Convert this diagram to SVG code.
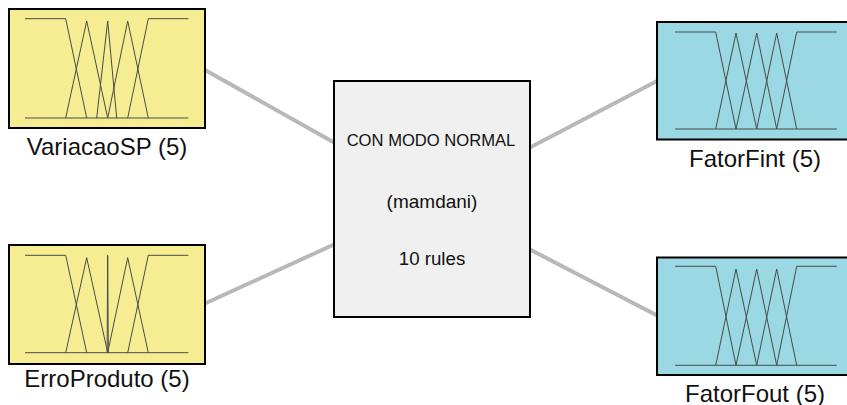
<svg xmlns="http://www.w3.org/2000/svg" width="847" height="405" viewBox="0 0 847 405">
<style>
.in{fill:#f6ed92;stroke:#000;stroke-width:2}
.out{fill:#9ad8e3;stroke:#000;stroke-width:2}
.sys{fill:#f0f0f0;stroke:#000;stroke-width:2}
.mf{fill:none;stroke:#4a4a4a;stroke-width:1}
.lbl{font-family:"Liberation Sans",Arial,sans-serif;font-size:24px;fill:#111;text-anchor:middle}
.st{font-family:"Liberation Sans",Arial,sans-serif;fill:#111;text-anchor:middle}
.conn{stroke:#b8b8b8;stroke-width:4;fill:none}
</style>
<rect width="847" height="405" fill="#fff"/>
<g id="connectors">
<line class="conn" x1="205" y1="70" x2="334" y2="142.5"/>
<line class="conn" x1="205" y1="303.5" x2="334" y2="244.5"/>
<line class="conn" x1="530" y1="147.5" x2="658" y2="80.5"/>
<line class="conn" x1="530" y1="249.5" x2="658" y2="316"/>
</g>
<g id="VariacaoSP">
<rect class="in" x="9" y="9" width="196" height="119"/>
<polyline class="mf" points="25,18.7 65.7,18.7 86.7,118"/>
<polyline class="mf" points="65.7,118 86.7,21 107.7,118"/>
<polyline class="mf" points="96.7,118 107.7,21 116.7,118"/>
<polyline class="mf" points="107.7,118 127.7,21 148.3,118"/>
<polyline class="mf" points="127.7,118 148.3,18.7 188.3,18.7"/>
<line class="mf" x1="25" y1="118" x2="188.3" y2="118"/>
<text class="lbl" x="107" y="154.5">VariacaoSP (5)</text>
</g>
<g id="ErroProduto">
<rect class="in" x="9" y="245" width="196" height="119"/>
<polyline class="mf" points="25,255.3 65.7,255.3 86.7,352.7"/>
<polyline class="mf" points="65.7,352.7 86.7,257.7 107.7,352.7"/>
<polyline class="mf" points="107.1,352.7 107.7,255.3 108.3,352.7"/>
<polyline class="mf" points="107.7,352.7 127.7,257.7 148.3,352.7"/>
<polyline class="mf" points="127.7,352.7 148.3,255.3 188.3,255.3"/>
<line class="mf" x1="25" y1="352.7" x2="188.3" y2="352.7"/>
<text class="lbl" x="107" y="387">ErroProduto (5)</text>
</g>
<g id="system">
<rect class="sys" x="334" y="81" width="196" height="236"/>
<text class="st" x="431" y="146" font-size="16.6">CON MODO NORMAL</text>
<text class="st" x="432" y="207.5" font-size="19">(mamdani)</text>
<text class="st" x="432" y="265" font-size="18.7">10 rules</text>
</g>
<g id="FatorFint">
<rect class="out" x="657" y="22" width="196" height="117.5"/>
<polyline class="mf" points="675,32 715.7,32 736,129"/>
<polyline class="mf" points="715.7,129 736,33 756.7,129"/>
<polyline class="mf" points="736,129 756.7,33 776.7,129"/>
<polyline class="mf" points="756.7,129 776.7,33 796.7,129"/>
<polyline class="mf" points="776.7,129 796.7,32 836.7,32"/>
<line class="mf" x1="675" y1="129" x2="836.7" y2="129"/>
<text class="lbl" x="755" y="166.5">FatorFint (5)</text>
</g>
<g id="FatorFout">
<rect class="out" x="657" y="257.5" width="196" height="117.5"/>
<polyline class="mf" points="675,266.3 715.7,266.3 736,365.3"/>
<polyline class="mf" points="715.7,365.3 736,269 756.7,365.3"/>
<polyline class="mf" points="736,365.3 756.7,269 776.7,365.3"/>
<polyline class="mf" points="756.7,365.3 776.7,269 796.7,365.3"/>
<polyline class="mf" points="776.7,365.3 796.7,266.3 836.7,266.3"/>
<line class="mf" x1="675" y1="365.3" x2="836.7" y2="365.3"/>
<text class="lbl" x="755" y="401.5">FatorFout (5)</text>
</g>
</svg>
